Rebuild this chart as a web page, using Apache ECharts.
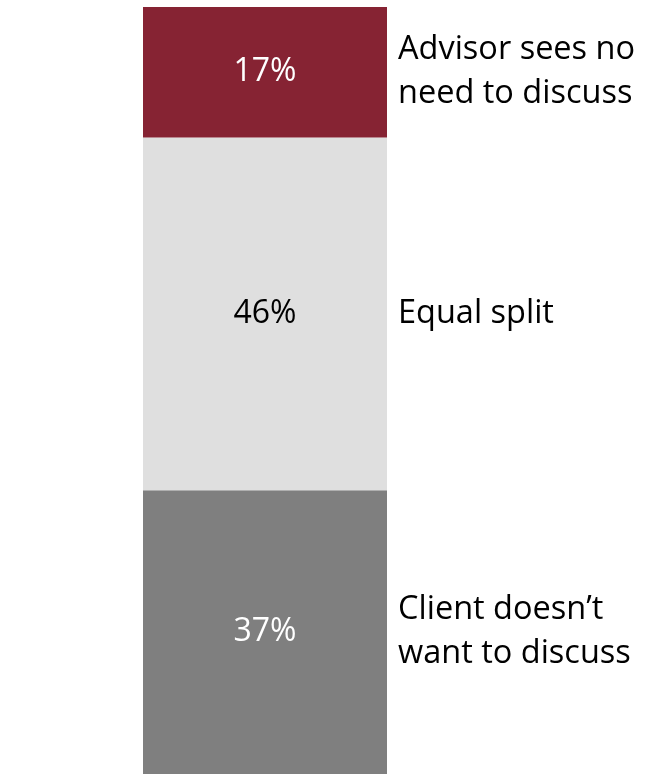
<!DOCTYPE html>
<html>
<head>
<meta charset="utf-8">
<script src="https://cdn.jsdelivr.net/npm/echarts@6/dist/echarts.min.js"></script>
<style>
  html, body { margin: 0; padding: 0; background: #ffffff; }
  #chart { width: 646px; height: 774px; }
</style>
</head>
<body>
<div id="chart"></div>
<script>
// Stacked share, listed from the bottom segment upward
const categories = ['All'];
const segmentNames = ['Client doesn\u2019t\nwant to discuss', 'Equal split', 'Advisor sees no\nneed to discuss'];
const segmentValues = [37, 46, 17];
const segmentColors = ['#7f7f7f', '#dfdfdf', '#862333'];
const valueLabelColors = ['#ffffff', '#000000', '#ffffff'];

const FONT = '"Open Sans", sans-serif';

const series = [];
// Visible segments with the percentage inside
segmentValues.forEach(function (v, i) {
  series.push({
    type: 'bar',
    name: segmentNames[i],
    stack: 'share',
    xAxisIndex: 0,
    barWidth: '100%',
    data: [v],
    itemStyle: { color: segmentColors[i] },
    label: {
      show: true,
      position: 'inside',
      formatter: '{c}%',
      color: valueLabelColors[i],
      fontFamily: FONT,
      fontSize: 32
    },
    silent: true
  });
});
// Transparent twin stack carrying the segment names to the right
segmentValues.forEach(function (v, i) {
  series.push({
    type: 'bar',
    name: segmentNames[i] + ' ',
    stack: 'names',
    xAxisIndex: 1,
    barWidth: '100%',
    data: [v],
    itemStyle: { color: 'rgba(0,0,0,0)' },
    label: {
      show: true,
      position: 'right',
      distance: 11,
      formatter: segmentNames[i],
      color: '#000000',
      align: 'left',
      fontFamily: FONT,
      fontSize: 32.5,
      lineHeight: 44
    },
    silent: true
  });
});

const chart = echarts.init(document.getElementById('chart'), null, { renderer: 'canvas' });
chart.setOption({
  animation: false,
  grid: { left: 143, right: 259, top: 7, height: 772 },
  xAxis: [
    { type: 'category', data: categories, show: false },
    { type: 'category', data: categories, show: false }
  ],
  yAxis: { type: 'value', min: 0, max: 100, show: false },
  series: series
});
</script>
</body>
</html>
